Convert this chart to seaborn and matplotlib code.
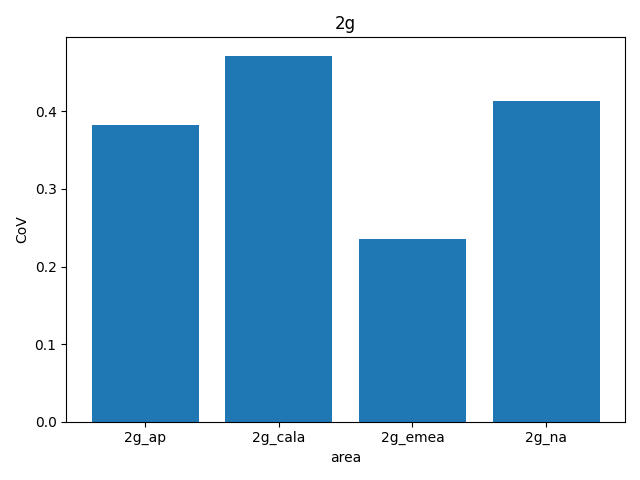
import matplotlib
matplotlib.use("Agg")
import matplotlib.pyplot as plt
import seaborn as sns
import pandas as pd

areas = ["2g_ap", "2g_cala", "2g_emea", "2g_na"]
cov = [0.382, 0.472, 0.235, 0.414]

df = pd.DataFrame({"area": areas, "CoV": cov})
fig, ax = plt.subplots(figsize=(6.4, 4.8), dpi=100)
sns.barplot(data=df, x="area", y="CoV", color="#1f77b4", saturation=1, width=0.8, ax=ax)
ax.set_xlim(-0.59, 3.59)
ax.set_title("2g")
fig.tight_layout()
fig.savefig("out.png")
